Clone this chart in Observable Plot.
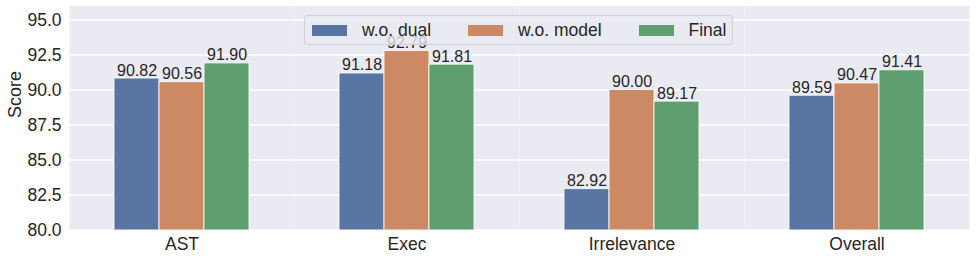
<!DOCTYPE html>
<html>
<head>
<meta charset="utf-8">
<script src="https://cdn.jsdelivr.net/npm/d3@7"></script>
<script src="https://cdn.jsdelivr.net/npm/@observablehq/plot@0.6"></script>
<style>
  html, body { margin: 0; padding: 0; background: white; }
  #wrap { position: relative; width: 976px; height: 260px; font-family: "Liberation Sans", Arial, sans-serif; color: #262626; }
  #legend { position: absolute; left: 304px; top: 15px; width: 427px; height: 28px; border: 1px solid rgba(204,204,204,0.8); border-radius: 4px; background: rgba(234,234,242,0.8); box-sizing: content-box; }
  .item { position: absolute; top: 0; height: 28px; display: flex; align-items: center; font-size: 17.5px; white-space: nowrap; }
  .sw { width: 35px; height: 11px; margin-right: 15px; }
</style>
</head>
<body>
<div id="wrap"></div>
<script>
const categories = ["AST", "Exec", "Irrelevance", "Overall"];
const series = ["w.o. dual", "w.o. model", "Final"];
const woDual = [90.82, 91.18, 82.92, 89.59];
const woModel = [90.56, 92.79, 90.00, 90.47];
const final = [91.90, 91.81, 89.17, 91.41];
const colors = ["#5975a4", "#cc8963", "#5f9e6e"];
const yTicks = [80, 82.5, 85, 87.5, 90, 92.5, 95];

const valuesBySeries = [woDual, woModel, final];
const rows = [];
categories.forEach((c, i) => {
  series.forEach((s, j) => rows.push({category: c, series: s, value: valuesBySeries[j][i]}));
});

const chart = Plot.plot({
  width: 976,
  height: 260,
  marginLeft: 68,
  marginRight: 6,
  marginTop: 5.5,
  marginBottom: 30.5,
  style: {fontFamily: '"Liberation Sans", Arial, sans-serif', color: "#262626", background: "white"},
  fx: {domain: categories, paddingInner: 0, paddingOuter: 0, label: null},
  x: {domain: series, paddingInner: 0, paddingOuter: 1, axis: null},
  y: {domain: [80, 96], label: null, ticks: yTicks, tickFormat: d3.format(".1f")},
  color: {domain: series, range: colors},
  marks: [
    Plot.frame({fill: "#eaeaf2", stroke: "none"}),
    Plot.gridY(yTicks, {stroke: "white", strokeOpacity: 1, strokeWidth: 1.3}),
    Plot.barY(rows, {fx: "category", x: "series", y: "value", fill: "series", stroke: "white", strokeOpacity: 0.85, strokeWidth: 1, clip: true}),
    Plot.text(rows, {fx: "category", x: "series", y: "value", text: d => d3.format(".2f")(d.value), dy: -3, lineAnchor: "bottom", fontSize: 16, fill: "#262626"}),
    Plot.axisFx({anchor: "bottom", tickSize: 0, tickPadding: 8, fontSize: 17.5, label: null, fill: "#262626"}),
    Plot.axisY(yTicks, {tickSize: 0, tickPadding: 8, fontSize: 17.5, tickFormat: d3.format(".1f"), label: null, fill: "#262626"}),
    Plot.text(["Score"], {frameAnchor: "left", dx: -54, rotate: -90, fontSize: 18, fill: "#262626", facet: "super"})
  ]
});

const wrap = document.getElementById("wrap");
wrap.appendChild(chart);

const legend = document.createElement("div");
legend.id = "legend";
const offsets = [7, 163, 333.5];
series.forEach((s, j) => {
  const it = document.createElement("div");
  it.className = "item";
  it.style.left = offsets[j] + "px";
  const sw = document.createElement("span");
  sw.className = "sw";
  sw.style.background = colors[j];
  const t = document.createElement("span");
  t.textContent = s;
  it.appendChild(sw);
  it.appendChild(t);
  legend.appendChild(it);
});
wrap.appendChild(legend);
</script>
</body>
</html>
